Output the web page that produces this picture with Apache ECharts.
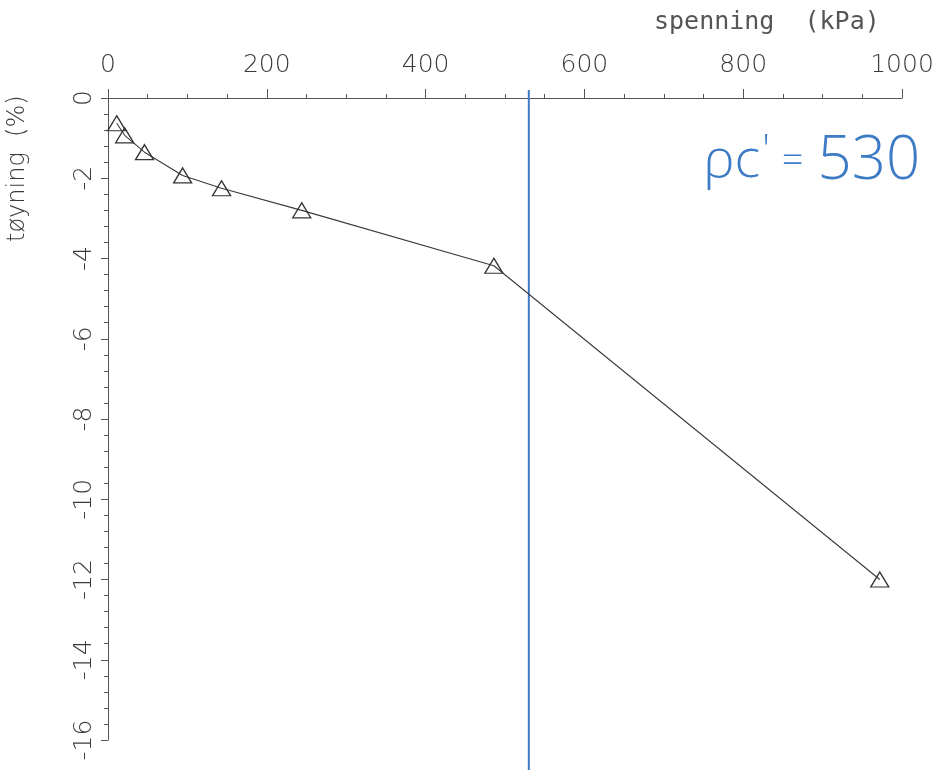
<!DOCTYPE html>
<html lang="no">
<head>
    <meta charset="utf-8">
    <title>Ødometerforsøk</title>
    <style>
        html, body { margin: 0; padding: 0; background: #fff; overflow: hidden; }
    </style>
</head>
<body>
	<div id="chart-container" style="width: 942px; height: 770px;"></div>

	<script src="https://cdn.jsdelivr.net/npm/echarts@6/dist/echarts.min.js"></script>
	<script>
		// målte punkter: spenning (kPa) og tøyning (%)
		var spenning = [11, 21, 46, 94, 143, 244, 486, 972];
		var toyning = [-0.63, -0.93, -1.35, -1.93, -2.25, -2.8, -4.18, -12.0];

		// tick labels
		var xTicks = [0, 200, 400, 600, 800, 1000];
		var yTicks = [0, -2, -4, -6, -8, -10, -12, -14, -16];

		// prekonsolideringsspenning (håndtegnet)
		var pc = 530;
		var pcLineY = [0.2, -17.6];

		var chartDom = document.getElementById('chart-container');
		var myChart = echarts.init(chartDom);

		var tickFont = {
			color: '#3a3a3a',
			fontFamily: 'DejaVu Sans',
			fontWeight: 200,
			fontSize: 25
		};
		var axisColor = '#555';
		var blue = '#3d7bc4';

		var option = {
			backgroundColor: '#fff',
			animation: false,
			grid: { left: 108, right: 40, top: 98, bottom: 30 },
			xAxis: {
				type: 'value',
				position: 'top',
				min: xTicks[0],
				max: xTicks[xTicks.length - 1],
				interval: 200,
				axisLine: { show: true, onZero: false, lineStyle: { color: axisColor, width: 1 } },
				axisTick: { show: true, length: 9, lineStyle: { color: axisColor } },
				minorTick: { show: true, splitNumber: 4, length: 4, lineStyle: { color: axisColor } },
				axisLabel: Object.assign({
					margin: 20,
					formatter: function (v) { return String(v); }
				}, tickFont),
				splitLine: { show: false }
			},
			yAxis: {
				type: 'value',
				min: yTicks[yTicks.length - 1],
				max: yTicks[0],
				interval: 2,
				axisLine: { show: true, onZero: false, lineStyle: { color: axisColor, width: 1 } },
				axisTick: { show: true, length: 7, lineStyle: { color: axisColor } },
				minorTick: { show: true, splitNumber: 5, length: 4, lineStyle: { color: axisColor } },
				axisLabel: Object.assign({ margin: 11, rotate: 90 }, tickFont),
				splitLine: { show: false }
			},
			graphic: [
				{
					type: 'text',
					left: 654,
					top: 10,
					style: {
						text: 'spenning  (kPa)',
						fill: '#555',
						font: '25px "DejaVu Sans Mono"'
					}
				},
				{
					type: 'text',
					x: 6,
					y: 242,
					rotation: Math.PI / 2,
					style: {
						text: 'tøyning  (%)',
						fill: '#3a3a3a',
						font: '200 24px "DejaVu Sans"'
					}
				},
				{
					type: 'text',
					left: 703,
					top: 132,
					style: {
						rich: {
							p: { fontSize: 54, fontFamily: 'Open Sans', fontWeight: 300, fill: blue },
							s: { fontSize: 40, fontFamily: 'Open Sans', fontWeight: 300, fill: blue, verticalAlign: 'top', padding: [0, 8, 20, 2] },
							e: { fontSize: 38, fontFamily: 'Open Sans', fontWeight: 300, fill: blue, padding: [0, 14, 0, 4] },
							n: { fontSize: 60, fontFamily: 'Open Sans', fontWeight: 300, fill: blue }
						},
						text: "{p|\u03c1c}{s|'}{e|=}{n|530}"
					}
				}
			],
			series: [
				{
					name: 'tøyning',
					type: 'line',
					data: spenning.map(function (s, i) { return [s, toyning[i]]; }),
					symbol: 'triangle',
					symbolSize: [18, 15],
					showAllSymbol: true,
					lineStyle: { color: '#3a3a3a', width: 1.1 },
					itemStyle: { color: 'rgba(0,0,0,0)', borderColor: '#333', borderWidth: 1.3 },
					z: 3
				},
				{
					name: 'pc',
					type: 'line',
					clip: false,
					data: pcLineY.map(function (y) { return [pc, y]; }),
					symbol: 'none',
					lineStyle: { color: blue, width: 2 },
					z: 2
				}
			]
		};

		myChart.setOption(option);
	</script>
</body>
</html>
